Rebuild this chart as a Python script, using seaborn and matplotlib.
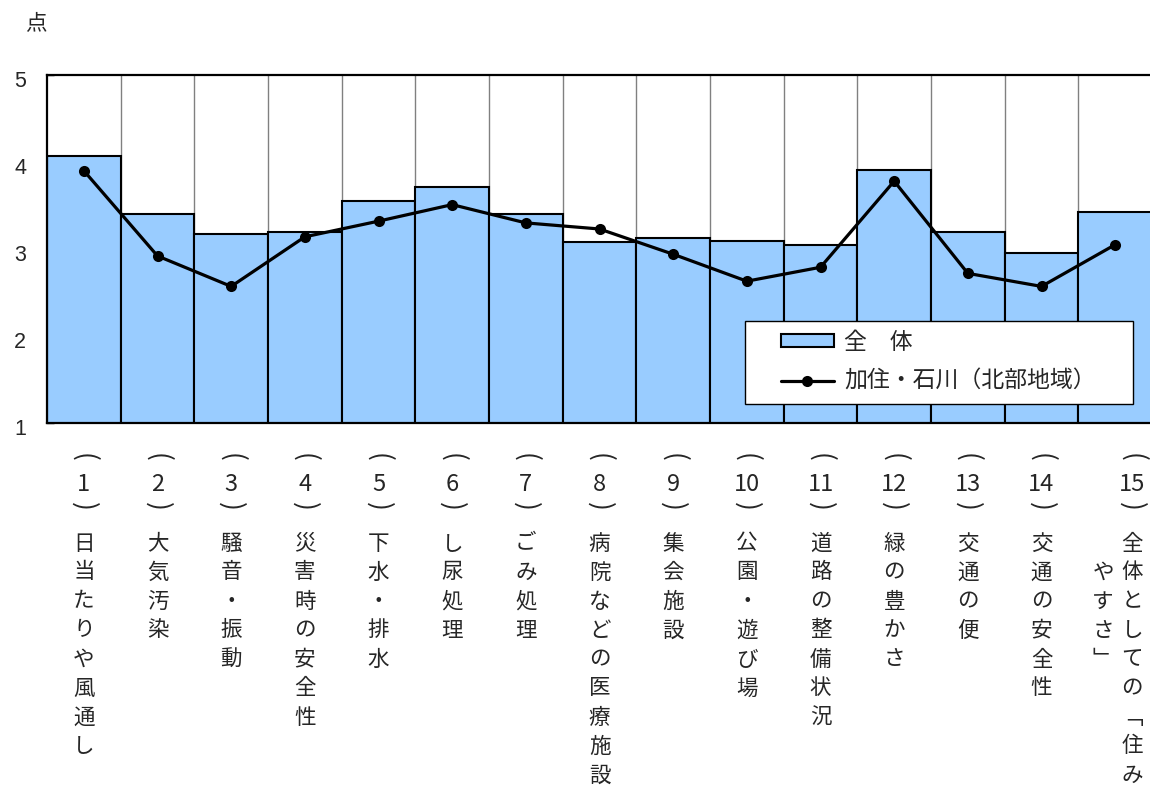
import numpy as np
import pandas as pd
import matplotlib
matplotlib.use("Agg")
import matplotlib.pyplot as plt
import matplotlib.transforms as mtransforms
from matplotlib.patches import Rectangle, Patch
from matplotlib.lines import Line2D
from matplotlib.ticker import FixedLocator
import seaborn as sns

# ---- data -------------------------------------------------------------
item_numbers = [str(i) for i in range(1, 16)]
item_names = [
    "日当たりや風通し", "大気汚染", "騒音・振動", "災害時の安全性", "下水・排水",
    "し尿処理", "ごみ処理", "病院などの医療施設", "集会施設", "公園・遊び場",
    "道路の整備状況", "緑の豊かさ", "交通の便", "交通の安全性",
    "全体としての「住みやすさ」",
]
overall_scores = [4.07, 3.40, 3.17, 3.20, 3.55, 3.71, 3.40, 3.08,
                  3.13, 3.09, 3.05, 3.91, 3.20, 2.95, 3.42]
north_scores = [3.90, 2.92, 2.57, 3.14, 3.32, 3.51, 3.30, 3.23,
                2.94, 2.63, 2.79, 3.78, 2.72, 2.57, 3.05]
y_ticks = [1, 2, 3, 4, 5]
overall_label = "全　体"
north_label = "加住・石川（北部地域）"
unit_label = "点"

BAR_COLOR = "#99CCFF"
CJK = ["Noto Sans CJK JP", "DejaVu Sans"]

sns.set_style("white")
plt.rcParams["font.family"] = CJK

W, H = 1150, 787
fig = plt.figure(figsize=(W / 100, H / 100), dpi=100)
ax = fig.add_axes([47 / W, 1 - 423 / H, 1105 / W, 348 / H])

df = pd.DataFrame({
    "pos": np.arange(len(overall_scores)),
    "overall": overall_scores,
    "north": north_scores,
})

sns.barplot(data=df, x="pos", y="overall", color=BAR_COLOR, saturation=1,
            edgecolor="black", linewidth=1.5, width=1.0, ax=ax, zorder=2)
sns.lineplot(data=df, x="pos", y="north", color="black", linewidth=2.3,
             marker="o", markersize=8, markeredgewidth=0, ax=ax, zorder=3)

ax.set_xlim(-0.5, len(overall_scores) - 0.5)
ax.set_ylim(y_ticks[0], y_ticks[-1])
ax.set_xlabel("")
ax.set_ylabel("")

# category separators above the bars
ax.xaxis.set_minor_locator(FixedLocator(np.arange(0.5, len(overall_scores) - 1, 1.0)))
ax.grid(False)
ax.grid(True, which="minor", axis="x", color="#808080", linewidth=1.0)
ax.set_axisbelow(True)
ax.tick_params(axis="x", which="both", length=0, labelbottom=False)

ax.set_yticks(y_ticks)
ax.set_yticklabels([str(v) for v in y_ticks], family=["Liberation Sans"], fontsize=15.5)
ax.tick_params(axis="y", direction="in", length=5, width=1, color="black", pad=15, left=True)
shift = mtransforms.ScaledTranslation(0, -4 / 100, fig.dpi_scale_trans)
for lab in ax.get_yticklabels():
    lab.set_transform(lab.get_transform() + shift)

for side in ["left", "bottom", "top"]:
    ax.spines[side].set_visible(True)
    ax.spines[side].set_color("black")
    ax.spines[side].set_linewidth(1.6)
ax.spines["right"].set_visible(False)

# ---- vertical category labels ----------------------------------------
trans = mtransforms.blended_transform_factory(ax.transData, fig.transFigure)
px = 1.0 / 73.67          # one pixel in x data units
VERT = {"「": "﹁", "」": "﹂"}
ROW0, PITCH = 543.5, 29.0
MAX_ROWS = 9
lab_size = 15.5


def put(x, ypix, s, size=lab_size, rot=0):
    ax.text(x, 1 - ypix / H, s, transform=trans, ha="center", va="center",
            fontsize=size, family=CJK, rotation=rot, clip_on=False)


for i, (num, name) in enumerate(zip(item_numbers, item_names)):
    if len(name) > MAX_ROWS:
        x_main = i + 17 * px
        cols = [(x_main, 0, name[:MAX_ROWS]), (i - 12 * px, 1, name[MAX_ROWS:])]
    else:
        x_main = i
        cols = [(x_main, 0, name)]
    # parentheses turned sideways for vertical writing
    put(x_main, 457.5, "(", size=19, rot=-90)
    put(x_main, 484.5, num, size=17)
    put(x_main, 506.5, ")", size=19, rot=-90)
    for xc, start, text in cols:
        for k, ch in enumerate(text):
            put(xc, ROW0 + PITCH * (start + k), VERT.get(ch, ch))

fig.text(36 / W, 1 - 23 / H, unit_label, ha="center", va="center",
         fontsize=15.5, family=CJK)

# ---- legend -----------------------------------------------------------
frame = Rectangle(((745 - 47) / 1105, (423 - 404) / 348),
                  (1133 - 745) / 1105, (404 - 321) / 348,
                  transform=ax.transAxes, facecolor="white", edgecolor="black",
                  linewidth=1.0, zorder=4)
ax.add_patch(frame)

handles = [
    Patch(facecolor=BAR_COLOR, edgecolor="black", linewidth=1.5),
    Line2D([], [], color="black", linewidth=2.3, marker="o", markersize=8,
           markeredgewidth=0),
]
leg = ax.legend(handles, [overall_label, north_label], loc="center left",
                bbox_to_anchor=((781 - 47) / 1105, (423 - 362) / 348),
                frameon=False, borderpad=0, borderaxespad=0,
                handlelength=2.31, handleheight=0.48, handletextpad=0.44,
                labelspacing=0.7, prop={"family": CJK, "size": 16.5})
leg.set_zorder(5)

fig.savefig("out.png", dpi=100)
